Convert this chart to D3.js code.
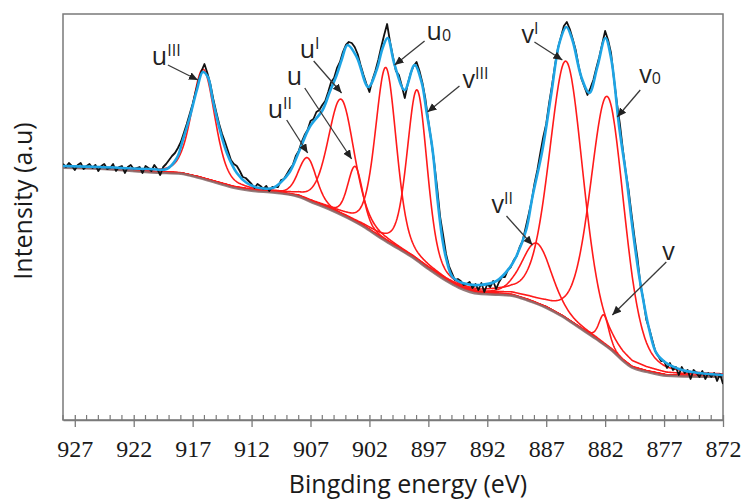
<!DOCTYPE html>
<html><head><meta charset="utf-8">
<script src="https://cdn.jsdelivr.net/npm/d3@7/dist/d3.min.js"></script>
<style>html,body{margin:0;padding:0;background:#fff;} svg{display:block;}</style>
</head><body>
<svg id="chart" width="741" height="499"></svg>
<script>
// ---------- DATA ----------
const tickLabels = [927, 922, 917, 912, 907, 902, 897, 892, 887, 882, 877, 872];
const energyDomain = [928, 872];
const intensityDomain = [0, 406];

// measured spectrum (black), 0.25 eV steps from 928 eV down to 872 eV
const measuredStart = 928, measuredStep = 0.25;
const measuredIntensity = [
256,253,257,254,250,255,257,251,254,256,
252,255,249,254,256,251,252,256,249,253,
254,247,253,255,251,252,253,247,254,252,
249,255,251,245,253,256,260,264,267,272,
278,287,296,306,316,328,339,349,356,347,
336,321,308,296,286,278,269,260,256,254,
249,243,242,239,236,232,236,234,231,234,
229,233,233,233,240,241,246,251,255,264,
269,278,285,290,299,301,308,310,315,319,
328,338,342,352,358,368,375,378,377,373,
366,355,345,336,328,340,349,360,373,385,
396,378,363,349,345,334,322,336,347,354,
358,349,337,321,299,279,257,232,203,185,
166,154,147,140,141,139,135,136,138,132,
136,130,137,128,136,133,139,131,138,143,
143,150,153,160,164,173,179,192,205,218,
236,250,267,283,296,317,335,355,372,383,
394,398,391,381,370,354,341,333,325,332,
340,352,363,376,389,380,367,341,317,296,
271,248,229,205,182,161,135,120,100,91,
80,69,64,59,59,52,57,50,53,45,
53,47,50,41,50,47,43,49,41,47,
43,47,39,46,36
];

// fitted envelope (blue)
const envelopeEnergy = [928.0,924.9,920.6,919.2,918.34,917.83,917.24,916.64,916.14,915.71,915.29,914.69,914.10,913.25,912.41,911.31,910.20,909.58,908.76,907.92,907.07,905.97,905.37,904.78,904.36,903.85,903.08,902.1,901.39,900.88,900.46,899.86,899.02,898.17,897.58,897.15,896.64,896.22,895.80,895.46,894.95,894.10,892.66,891.22,890.12,889.56,888.70,888.17,887.32,886.56,885.88,885.29,884.78,884.02,883.34,882.66,881.98,881.47,880.81,880.20,879.69,879.10,878.25,877.66,876.81,875.46,874.02,872.0];
const envelopeIntensity = [254,253,251,251,262,280,303,330,348,343,320,290,267,247,237,232,232,237,248,270,293,310,328,345,360,375,363,333,350,372,382,355,330,355,338,308,270,220,180,160,143,137,135,139,152,163,190,223,270,327,377,393,380,343,327,353,382,360,293,243,193,143,90,67,57,50,47,45];

// background (Shirley)
const backgroundEnergy = [928,925,920,918,916.5,915,913.5,912,910,908,906.8,905.5,903.9,902.5,901.1,899.7,898.3,896.9,895.5,894.4,892.7,891,889.9,888.5,887,885.6,884.2,882.8,881.4,880.5,879.7,878.5,876.8,874,872];
const backgroundIntensity = [253,252,248,247,243,238,233,230,228,224,218,212,203,194,183,173,163,151,140,133,127,126,125,120,113,104,93,82,70,60,53,49,45,44,44];

// fitted components (red)
const peakNames   = ["u'''", "u''", "u'", "u", "u0", "v'''", "v''", "v'", "v0", "v"];
const peakCenters = [916.1, 907.25, 904.4, 903.2, 900.6, 897.95, 887.8, 885.3, 881.8, 882.1];
const peakHeights = [109, 42, 115, 55, 173, 170, 60, 257, 250, 29];
const peakFwhm    = [2.3, 1.8, 2.6, 1.5, 2.1, 2.0, 3.0, 3.4, 3.4, 1.0];
const peakMix     = [0.3, 0.3, 0.3, 0.3, 0.3, 0.3, 0.3, 0.3, 0.3, 0.3];

// annotations: base letter, superscript, subscript, label anchor [eV, I], arrow from/to [eV, I]
const labelBase = ["u", "u", "u", "u", "u", "v", "v", "v", "v", "v"];
const labelSup  = ["III", "I", "", "II", "", "III", "I", "", "II", ""];
const labelSub  = ["", "", "", "", "0", "", "", "0", "", ""];
const labelAt   = [[920.46,355],[907.92,362],[909.02,335],[910.63,302],[897.15,380],[894.10,332],[889.10,377],[879.10,337],[891.64,207],[877.15,160]];
const arrowFrom = [[919.10,355],[906.73,359],[907.49,332],[909.02,300],[897.32,379],[894.36,334],[888.00,378],[879.02,330],[890.37,204],[876.81,158]];
const arrowTo   = [[916.56,340],[904.36,327],[903.51,261],[907.24,267],[899.86,355],[897.07,308],[885.63,360],[880.97,303],[888.17,175],[881.39,105]];

// ---------- CHART ----------
const svg = d3.select("#chart");
const L = 63, R = 723, T = 14, B = 420;
const x = d3.scaleLinear().domain(energyDomain).range([L, R]);
const y = d3.scaleLinear().domain(intensityDomain).range([B, T]);

const bgAt = d3.scaleLinear().domain(backgroundEnergy).range(backgroundIntensity).clamp(true);
function pv(e, k) {
  const d = (e - peakCenters[k]) / peakFwhm[k];
  const g = Math.exp(-4 * Math.LN2 * d * d);
  const l = 1 / (1 + 4 * d * d);
  return peakHeights[k] * ((1 - peakMix[k]) * g + peakMix[k] * l);
}

const defs = svg.append("defs");
defs.append("clipPath").attr("id", "plotclip")
  .append("rect").attr("x", L).attr("y", T).attr("width", R - L).attr("height", B - T);
const marker = defs.append("marker")
  .attr("id", "arrowhead").attr("markerUnits", "userSpaceOnUse")
  .attr("markerWidth", 10).attr("markerHeight", 10)
  .attr("refX", 9).attr("refY", 4).attr("orient", "auto");
marker.append("path").attr("d", "M0,0 L9,4 L0,8 Z").attr("fill", "#222");

// frame
svg.append("rect").attr("x", L).attr("y", T).attr("width", R - L).attr("height", B - T)
  .attr("fill", "none").attr("stroke", "#7a7a7a").attr("stroke-width", 1.5);

const plot = svg.append("g").attr("clip-path", "url(#plotclip)");
const lineXY = d3.line().x(d => x(d[0])).y(d => y(d[1]));

// components
const sampleE = d3.range(energyDomain[0], energyDomain[1] - 0.001, -0.05);
peakNames.forEach((name, k) => {
  plot.append("path")
    .datum(sampleE.map(e => [e, bgAt(e) + pv(e, k)]))
    .attr("d", lineXY)
    .attr("fill", "none").attr("stroke", "#ff1a1a").attr("stroke-width", 1.6);
});

// background
plot.append("path")
  .datum(backgroundEnergy.map((e, i) => [e, backgroundIntensity[i] - 0.8]))
  .attr("d", d3.line().x(d => x(d[0])).y(d => y(d[1])).curve(d3.curveMonotoneX))
  .attr("fill", "none").attr("stroke", "#8a6e6e").attr("stroke-width", 2.4).attr("opacity", 0.9);

// measured
plot.append("path")
  .datum(measuredIntensity.map((v, i) => [measuredStart - i * measuredStep, v]))
  .attr("d", lineXY)
  .attr("fill", "none").attr("stroke", "#111").attr("stroke-width", 1.8)
  .attr("stroke-linejoin", "round");

// envelope
plot.append("path")
  .datum(envelopeEnergy.map((e, i) => [e, envelopeIntensity[i]]))
  .attr("d", d3.line().x(d => x(d[0])).y(d => y(d[1])).curve(d3.curveCatmullRom.alpha(0.5)))
  .attr("fill", "none").attr("stroke", "#1ea4e4").attr("stroke-width", 2.6);

// x axis
const minorTicks = d3.range(energyDomain[0], energyDomain[1] - 0.5, -1).filter(v => !tickLabels.includes(v));
const axisG = svg.append("g").attr("transform", `translate(0,${B})`);
axisG.selectAll(".minor").data(minorTicks).join("line")
  .attr("x1", d => x(d)).attr("x2", d => x(d)).attr("y1", 0).attr("y2", -5)
  .attr("stroke", "#7a7a7a").attr("stroke-width", 1.2);
const xAxis = d3.axisBottom(x).tickValues(tickLabels).tickFormat(d3.format("d"))
  .tickSizeInner(7).tickSizeOuter(0).tickPadding(13);
axisG.call(xAxis);
axisG.select(".domain").attr("stroke", "#7a7a7a").attr("stroke-width", 1.5);
axisG.selectAll(".tick line").attr("stroke", "#7a7a7a").attr("stroke-width", 1.3).attr("y1", -5);
axisG.selectAll(".tick text").attr("font-family", "'Liberation Serif', 'Times New Roman', serif")
  .attr("font-size", 24).attr("fill", "#1a1a1a");

// axis titles
svg.append("text").attr("x", 408).attr("y", 493).attr("text-anchor", "middle")
  .attr("font-family", "'Open Sans', sans-serif").attr("font-size", 25).attr("fill", "#1a1a1a")
  .text("Bingding energy (eV)");
svg.append("text").attr("transform", "translate(32,201) rotate(-90)").attr("text-anchor", "middle")
  .attr("font-family", "'Open Sans', sans-serif").attr("font-size", 25).attr("fill", "#1a1a1a")
  .text("Intensity (a.u)");

// annotations
const ann = svg.append("g");
labelBase.forEach((b, k) => {
  ann.append("line")
    .attr("x1", x(arrowFrom[k][0])).attr("y1", y(arrowFrom[k][1]))
    .attr("x2", x(arrowTo[k][0])).attr("y2", y(arrowTo[k][1]))
    .attr("stroke", "#3a3a3a").attr("stroke-width", 1.3)
    .attr("marker-end", "url(#arrowhead)");
  const t = ann.append("text").attr("x", x(labelAt[k][0])).attr("y", y(labelAt[k][1]))
    .attr("font-family", "'Open Sans', sans-serif").attr("font-size", 25).attr("fill", "#222");
  t.append("tspan").text(b);
  if (labelSup[k]) t.append("tspan").attr("font-size", 16).attr("dy", -9).text(labelSup[k]);
  if (labelSub[k]) t.append("tspan").attr("font-size", 16).attr("dy", 1).text(labelSub[k]);
});
</script>
</body></html>
